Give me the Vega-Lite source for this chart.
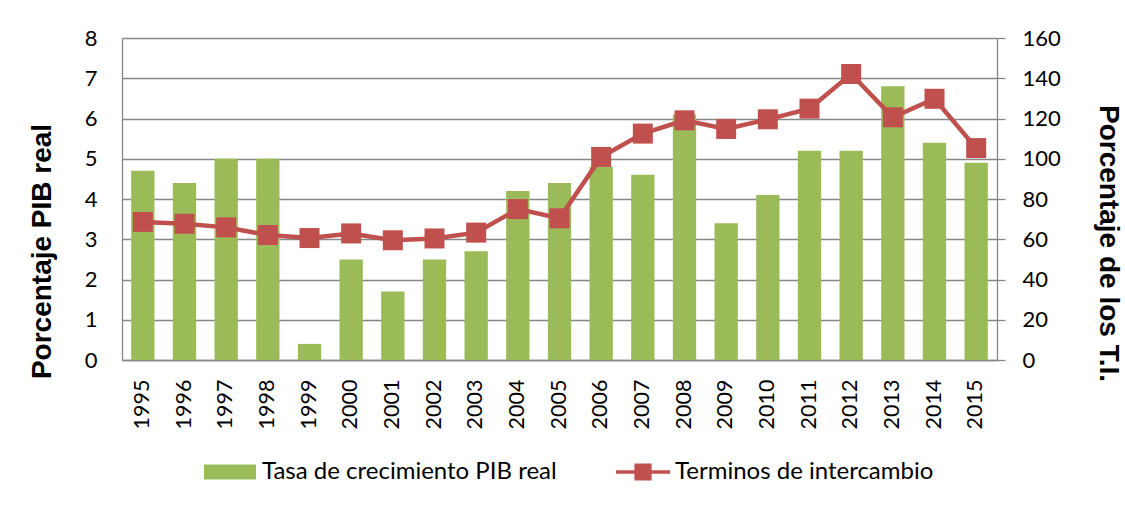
{
  "$schema": "https://vega.github.io/schema/vega-lite/v6.json",
  "autosize": "none",
  "padding": {"left": 122, "top": 38, "right": 128, "bottom": 146},
  "width": 875,
  "height": 322,
  "background": "white",
  "config": {"view": {"stroke": null}},
  "data": {"values": [
    {"year": "1995", "pib": 4.7, "ti": 68.6},
    {"year": "1996", "pib": 4.4, "ti": 67.7},
    {"year": "1997", "pib": 5.0, "ti": 65.9},
    {"year": "1998", "pib": 5.0, "ti": 62.1},
    {"year": "1999", "pib": 0.4, "ti": 60.6},
    {"year": "2000", "pib": 2.5, "ti": 62.9},
    {"year": "2001", "pib": 1.7, "ti": 59.5},
    {"year": "2002", "pib": 2.5, "ti": 60.4},
    {"year": "2003", "pib": 2.7, "ti": 63.3},
    {"year": "2004", "pib": 4.2, "ti": 75.0},
    {"year": "2005", "pib": 4.4, "ti": 70.4},
    {"year": "2006", "pib": 4.8, "ti": 100.9},
    {"year": "2007", "pib": 4.6, "ti": 112.5},
    {"year": "2008", "pib": 6.1, "ti": 119.1},
    {"year": "2009", "pib": 3.4, "ti": 114.8},
    {"year": "2010", "pib": 4.1, "ti": 119.6},
    {"year": "2011", "pib": 5.2, "ti": 124.9},
    {"year": "2012", "pib": 5.2, "ti": 142.1},
    {"year": "2013", "pib": 6.8, "ti": 120.6},
    {"year": "2014", "pib": 5.4, "ti": 129.8},
    {"year": "2015", "pib": 4.9, "ti": 105.3}
  ]},
  "encoding": {
    "x": {
      "field": "year", "type": "nominal", "sort": null,
      "scale": {"paddingInner": 0.44, "paddingOuter": 0.22},
      "axis": {
        "title": null, "labelAngle": -90, "labelFont": "Lato", "labelFontSize": 21.5,
        "labelColor": "black", "labelPadding": 19, "ticks": false,
        "domainColor": "#878787", "domainWidth": 1.3
      }
    }
  },
  "layer": [
    {
      "mark": {"type": "bar", "color": "#9BBB59"},
      "encoding": {
        "y": {
          "field": "pib", "type": "quantitative",
          "scale": {"domain": [0, 8]},
          "axis": {
            "orient": "left", "values": [0, 1, 2, 3, 4, 5, 6, 7, 8],
            "title": "Porcentaje PIB real", "titleFont": "Liberation Sans",
            "titleFontWeight": "bold", "titleFontSize": 28, "titleColor": "black",
            "titleX": -80, "titleY": 213, "titleAngle": -90, "titleAlign": "center",
            "titleBaseline": "middle",
            "labelFont": "Lato", "labelFontSize": 22, "labelColor": "black",
            "labelPadding": 25, "ticks": false,
            "domainColor": "#878787", "domainWidth": 1.3,
            "grid": true, "gridColor": "#878787", "gridWidth": 1.3
          }
        },
        "color": {
          "datum": "Tasa de crecimiento PIB real",
          "scale": {
            "domain": ["Tasa de crecimiento PIB real", "Terminos de intercambio"],
            "range": ["#9BBB59", "#C0504D"]
          },
          "legend": {
            "orient": "none", "legendX": 82, "legendY": 408,
            "direction": "horizontal", "title": null, "padding": 0,
            "labelFont": "Lato", "labelFontSize": 24, "labelColor": "black",
            "labelOffset": 6, "columnPadding": 58, "symbolSize": 2704,
            "labelLimit": 500,
            "encode": {
              "symbols": {
                "update": {
                  "shape": [
                    {"test": "datum.value === 'Terminos de intercambio'", "value": "M-1.04,-0.07H1.04V0.07H-1.04Z M-0.33,-0.33H0.33V0.33H-0.33Z"},
                    {"value": "M-1,-0.29H1V0.29H-1Z"}
                  ],
                  "fill": [
                    {"test": "datum.value === 'Terminos de intercambio'", "value": "#C0504D"},
                    {"value": "#9BBB59"}
                  ],
                  "strokeWidth": {"value": 0},
                  "opacity": {"value": 1},
                  "fillOpacity": {"value": 1}
                }
              }
            }
          }
        }
      }
    },
    {
      "mark": {
        "type": "line", "strokeWidth": 4.5,
        "point": {"filled": true, "shape": "square", "size": 400, "opacity": 1}
      },
      "encoding": {
        "y": {
          "field": "ti", "type": "quantitative",
          "scale": {"domain": [0, 160]},
          "axis": {
            "orient": "right", "values": [0, 20, 40, 60, 80, 100, 120, 140, 160],
            "title": "Porcentaje de los T.I.", "titleFont": "Liberation Sans",
            "titleFontWeight": "bold", "titleFontSize": 28, "titleColor": "black",
            "titleX": 110, "titleY": 205, "titleAngle": 90, "titleAlign": "center",
            "titleBaseline": "middle",
            "labelFont": "Lato", "labelFontSize": 22, "labelColor": "black",
            "labelPadding": 17, "ticks": true, "tickSize": 8,
            "tickColor": "#878787", "tickWidth": 1.3,
            "domainColor": "#878787", "domainWidth": 1.3,
            "grid": false
          }
        },
        "color": {"datum": "Terminos de intercambio"}
      }
    }
  ],
  "resolve": {"scale": {"y": "independent"}, "axis": {"y": "independent"}}
}
